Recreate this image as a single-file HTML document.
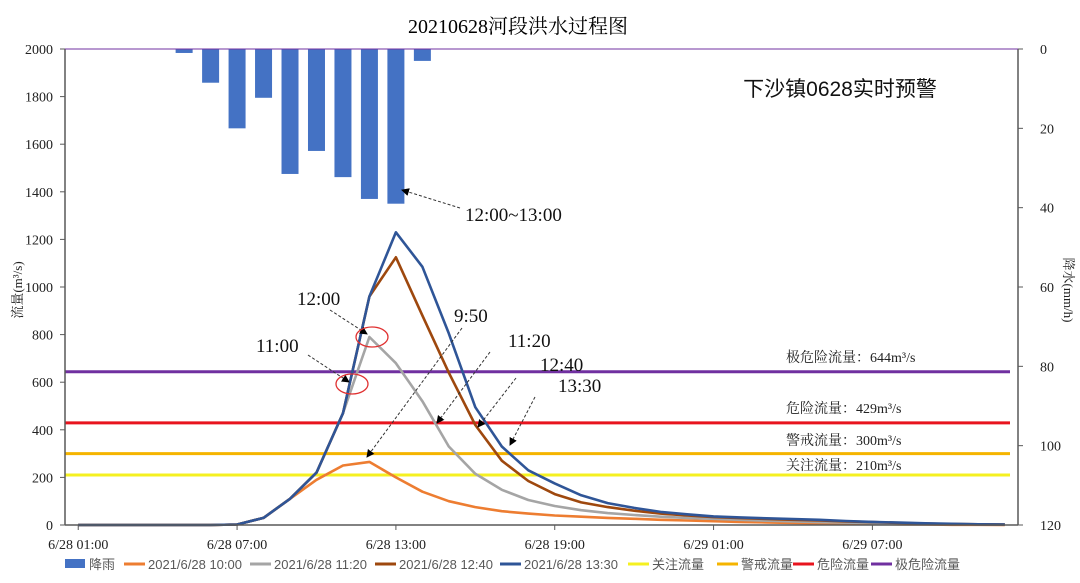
<!DOCTYPE html>
<html><head><meta charset="utf-8">
<style>
html,body{margin:0;padding:0;background:#fff;}
body{width:1080px;height:583px;overflow:hidden;}
svg{display:block;}
.serif{font-family:"Liberation Serif","Noto Serif CJK SC",serif;}
.sans{font-family:"Liberation Sans","Noto Sans CJK SC",sans-serif;}
</style></head>
<body>
<svg id="chart" width="1080" height="583" viewBox="0 0 1080 583">
<defs>
<marker id="ah" markerWidth="8" markerHeight="8" refX="7" refY="4" orient="auto" markerUnits="userSpaceOnUse">
<path d="M0,0 L8,4 L0,8 Z" fill="#000"/>
</marker>
</defs>
<text x="518" y="33" text-anchor="middle" font-size="20" class="serif" fill="#000">20210628河段洪水过程图</text>
<text x="840" y="96" text-anchor="middle" font-size="21" class="sans" fill="#111">下沙镇0628实时预警</text>
<g id="grid"></g>
<g id="bars"></g>
<g id="thresholds"></g>
<g id="lines"></g>
<g id="axes"></g>
<g id="notes"></g>
<g id="legend"></g>
</svg>
<script>
const categories = ["6/28 01:00","6/28 02:00","6/28 03:00","6/28 04:00","6/28 05:00","6/28 06:00","6/28 07:00","6/28 08:00","6/28 09:00","6/28 10:00","6/28 11:00","6/28 12:00","6/28 13:00","6/28 14:00","6/28 15:00","6/28 16:00","6/28 17:00","6/28 18:00","6/28 19:00","6/28 20:00","6/28 21:00","6/28 22:00","6/28 23:00","6/29 00:00","6/29 01:00","6/29 02:00","6/29 03:00","6/29 04:00","6/29 05:00","6/29 06:00","6/29 07:00","6/29 08:00","6/29 09:00","6/29 10:00","6/29 11:00","6/29 12:00"];
const rain = [0,0,0,0,1,8.5,20,12.3,31.5,25.7,32.3,37.8,39,3,0,0,0,0,0,0,0,0,0,0,0,0,0,0,0,0,0,0,0,0,0,0];
const s1000 = [0,0,0,0,0,0,2,30,110,190,250,265,200,140,100,75,58,48,40,35,30,26,22,19,16,13,11,9,7,5,4,3,2,1,1,0];
const s1120 = [0,0,0,0,0,0,2,30,110,220,470,790,680,520,330,215,148,105,80,62,50,42,35,30,26,22,18,15,12,10,8,6,5,4,3,2];
const s1240 = [0,0,0,0,0,0,2,30,110,220,470,960,1125,880,640,420,270,185,130,95,75,60,48,40,33,29,25,22,19,15,12,9,6,4,3,2];
const s1330 = [0,0,0,0,0,0,2,30,110,220,470,960,1230,1085,805,495,330,230,175,125,92,72,55,45,36,32,28,25,22,17,13,10,7,5,3,2];
const thresholdValues = [210,300,429,644];
const thresholdLabels = ["关注流量：210m³/s","警戒流量：300m³/s","危险流量：429m³/s","极危险流量：644m³/s"];
const leftTicks = [0,200,400,600,800,1000,1200,1400,1600,1800,2000];
const rightTicks = [0,20,40,60,80,100,120];

const NS="http://www.w3.org/2000/svg";
const X0=65,X1=1018,Y0=525,Y1=49;
const bw=(X1-X0)/categories.length;
const xs=i=>X0+(i+0.5)*bw;
const yL=v=>Y0-v/2000*(Y0-Y1);
const yR=v=>Y1+v/120*(Y0-Y1);
function mk(tag,attrs,parent,text){const e=document.createElementNS(NS,tag);for(const k in attrs)e.setAttribute(k,attrs[k]);if(text!==undefined)e.textContent=text;parent.appendChild(e);return e;}
const g=id=>document.getElementById(id);

rain.forEach((v,i)=>{if(v<=0)return;const r=mk('rect',{x:xs(i)-8.5,y:Y1,width:17,height:Math.max(0,yR(v)-Y1),fill:'#4472c4'},g('bars'));

});

const thColors=['#f5f020','#f5b400','#e8141e','#7030a0'];
const thLabelY=[470,445,413,362];
thresholdValues.forEach((v,k)=>{const l=mk('line',{x1:X0,x2:1010,y1:yL(v),y2:yL(v),stroke:thColors[k],'stroke-width':3},g('thresholds'));


const t=mk('text',{x:786,y:thLabelY[k],'font-size':14,class:'serif',fill:'#222'},g('thresholds'),thresholdLabels[k]);

});

const series=[[s1000,'#ed7d31','series-1000'],[s1120,'#a5a5a5','series-1120'],[s1240,'#9e480e','series-1240'],[s1330,'#2f5597','series-1330']];
series.forEach(([d,c,n])=>{const p=mk('polyline',{points:d.map((v,i)=>xs(i).toFixed(1)+','+yL(v).toFixed(1)).join(' '),fill:'none',stroke:c,'stroke-width':2.6,'stroke-linejoin':'round'},g('lines'));

});

const ax=g('axes');
mk('line',{x1:X0,x2:X0,y1:Y1,y2:Y0,stroke:'#595959','stroke-width':1.5},ax);
mk('line',{x1:X1,x2:X1,y1:Y1,y2:Y0,stroke:'#595959','stroke-width':1.5},ax);
mk('line',{x1:X0,x2:X1,y1:Y0,y2:Y0,stroke:'#595959','stroke-width':1.5},ax);
mk('line',{x1:X0,x2:X1,y1:Y1,y2:Y1,stroke:'#7030a0','stroke-width':1},ax);
leftTicks.forEach(v=>{mk('line',{x1:X0-5,x2:X0,y1:yL(v),y2:yL(v),stroke:'#595959'},ax);
const t=mk('text',{x:X0-12,y:yL(v)+5,'text-anchor':'end','font-size':14,class:'serif',fill:'#222'},ax,String(v));

});
rightTicks.forEach(v=>{mk('line',{x1:X1,x2:X1+5,y1:yR(v),y2:yR(v),stroke:'#595959'},ax);
const t=mk('text',{x:X1+22,y:yR(v)+5,'font-size':14,class:'serif',fill:'#222'},ax,String(v));

});
categories.forEach((c,i)=>{if(i%6!==0)return;mk('line',{x1:xs(i),x2:xs(i),y1:Y0,y2:Y0+5,stroke:'#595959'},ax);
const t=mk('text',{x:xs(i),y:Y0+24,'text-anchor':'middle','font-size':14,class:'serif',fill:'#222'},ax,c);

});
</script>
<script>
const NS2="http://www.w3.org/2000/svg";
function add(tag,attrs,parent,text){const e=document.createElementNS(NS2,tag);for(const k in attrs)e.setAttribute(k,attrs[k]);if(text!==undefined)e.textContent=text;parent.appendChild(e);return e;}
const ax2=document.getElementById('axes');
let t=add('text',{x:0,y:0,'font-size':13,class:'serif',fill:'#222',transform:'translate(22,290) rotate(-90)','text-anchor':'middle'},ax2,'流量(m³/s)');


t=add('text',{x:0,y:0,'font-size':13,class:'serif',fill:'#222',transform:'translate(1064,290) rotate(90)','text-anchor':'middle'},ax2,'降水(mm/h)');



const notes=document.getElementById('notes');
const noteTexts=["12:00~13:00","12:00","11:00","9:50","11:20","12:40","13:30"];
const noteXY=[[465,221],[297,305],[256,352],[454,322],[508,347],[540,371],[558,392]];
const arrows=[[460,208,402,190],[330,310,367,334],[308,355,349,382],[462,328,367,457],[490,352,437,423],[516,378,478,427],[535,397,510,445]];
noteTexts.forEach((s,k)=>{const tx=add('text',{x:noteXY[k][0],y:noteXY[k][1],'font-size':19,class:'serif',fill:'#111'},notes,s);


const a=arrows[k];add('line',{x1:a[0],y1:a[1],x2:a[2],y2:a[3],stroke:'#333','stroke-width':1,'stroke-dasharray':'3,2','marker-end':'url(#ah)'},notes);});
add('ellipse',{cx:372,cy:337,rx:16,ry:10,fill:'none',stroke:'#e03030','stroke-width':1.3},notes);
add('ellipse',{cx:352,cy:384,rx:16,ry:10,fill:'none',stroke:'#e03030','stroke-width':1.3},notes);

const leg=document.getElementById('legend');
const legItems=[["降雨",'#4472c4',1,65],["2021/6/28 10:00",'#ed7d31',0,124],["2021/6/28 11:20",'#a5a5a5',0,250],["2021/6/28 12:40",'#9e480e',0,375],["2021/6/28 13:30",'#2f5597',0,500],["关注流量",'#f5f020',0,628],["警戒流量",'#f5b400',0,717],["危险流量",'#e8141e',0,793],["极危险流量",'#7030a0',0,871]];
legItems.forEach(([s,c,isBar,x])=>{if(isBar)add('rect',{x:x,y:559,width:20,height:9,fill:c},leg);else add('line',{x1:x,x2:x+21,y1:564,y2:564,stroke:c,'stroke-width':3},leg);
const lt=add('text',{x:x+24,y:569,'font-size':13,class:'sans',fill:'#595959'},leg,s);

});
</script>
</body></html>
